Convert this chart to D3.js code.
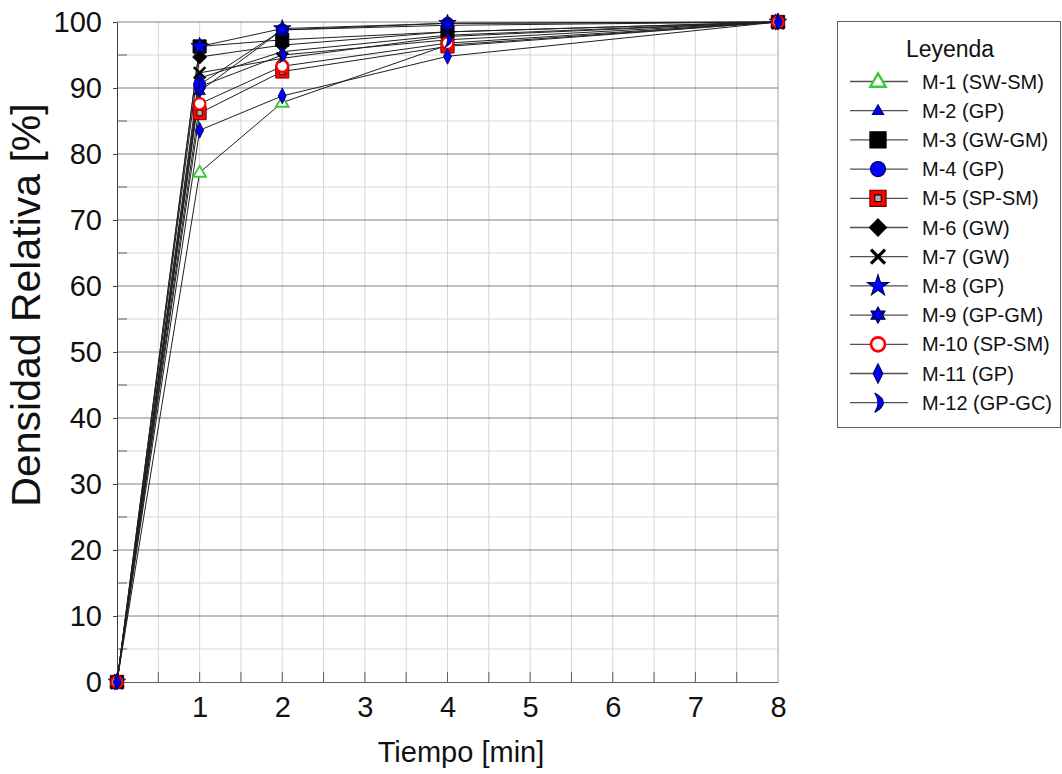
<!DOCTYPE html>
<html>
<head>
<meta charset="utf-8">
<script src="https://cdn.jsdelivr.net/npm/d3@7"></script>
<style>
  html, body { margin: 0; padding: 0; background: #fff; }
  svg { display: block; font-family: "Liberation Sans", Arial, sans-serif; }
</style>
</head>
<body>
<svg id="chart" width="1062" height="774"></svg>
<script>
// Compaction time steps (min) and relative density (%) for each sample
const tiempos = [0, 1, 2, 4, 8];
const muestras = ["M-1 (SW-SM)", "M-2 (GP)", "M-3 (GW-GM)", "M-4 (GP)", "M-5 (SP-SM)", "M-6 (GW)",
                  "M-7 (GW)", "M-8 (GP)", "M-9 (GP-GM)", "M-10 (SP-SM)", "M-11 (GP)", "M-12 (GP-GC)"];
const m1  = [0, 77.2, 87.8, 96.5, 100];
const m2  = [0, 91.5, 95.5, 98.0, 100];
const m3  = [0, 96.3, 97.3, 98.5, 100];
const m4  = [0, 90.5, 98.8, 99.8, 100];
const m5  = [0, 86.2, 92.5, 96.3, 100];
const m6  = [0, 94.7, 96.5, 98.5, 100];
const m7  = [0, 92.3, 94.5, 97.8, 100];
const m8  = [0, 96.3, 99.0, 99.8, 100];
const m9  = [0, 89.5, 98.8, 99.5, 100];
const m10 = [0, 87.6, 93.3, 96.8, 100];
const m11 = [0, 83.6, 88.8, 94.8, 100];
const m12 = [0, 90.2, 95.0, 97.3, 100];
const valores = [m1, m2, m3, m4, m5, m6, m7, m8, m9, m10, m11, m12];
const xTicks = [1, 2, 3, 4, 5, 6, 7, 8];
const yTicks = [0, 10, 20, 30, 40, 50, 60, 70, 80, 90, 100];

const svg = d3.select("#chart");
const x = d3.scaleLinear().domain([0, 8]).range([117, 778]);
const y = d3.scaleLinear().domain([0, 100]).range([682, 22]);

// ---- custom marker shapes ----
const shapeX = { draw(c, s) { const r = 6.5;
  c.moveTo(-r, -r); c.lineTo(r, r); c.moveTo(r, -r); c.lineTo(-r, r); } };
const shapeDavid = { draw(c, s) { const r = 7.5;
  for (const off of [-Math.PI / 2, Math.PI / 2]) {
    for (let i = 0; i < 3; i++) {
      const a = off + i * 2 * Math.PI / 3;
      const px = r * Math.cos(a), py = r * Math.sin(a);
      if (i === 0) c.moveTo(px, py); else c.lineTo(px, py);
    }
    c.closePath();
  } } };
const shapeTallDiamond = { draw(c, s) {
  c.moveTo(0, -9); c.lineTo(4.5, 0); c.lineTo(0, 9); c.lineTo(-4.5, 0); c.closePath(); } };
const shapeDiamond = { draw(c, s) { const r = 8;
  c.moveTo(0, -r); c.lineTo(r, 0); c.lineTo(0, r); c.lineTo(-r, 0); c.closePath(); } };
const shapeCrescent = { draw(c, s) {
  c.moveTo(-3, -9); c.quadraticCurveTo(13, 0, -3, 9); c.quadraticCurveTo(3, 0, -3, -9); c.closePath(); } };
const shapeTri = r => ({ draw(c, s) {
  c.moveTo(0, -r); c.lineTo(r * 0.95, r * 0.65); c.lineTo(-r * 0.95, r * 0.65); c.closePath(); } });
const shapeSquare = h => ({ draw(c, s) { c.rect(-h, -h, 2 * h, 2 * h); } });

const sym = t => d3.symbol().type(t)();
const estilos = [
  { d: sym(shapeTri(7.5)), fill: "#fff", stroke: "#3cc83c", sw: 2.2 },
  { d: sym(shapeTri(5.5)), fill: "#0000ff", stroke: "#000060", sw: 1 },
  { d: sym(shapeSquare(7.5)), fill: "#000", stroke: "#000", sw: 1 },
  { d: null, circle: 7, fill: "#0000ff", stroke: "#000050", sw: 1 },
  { d: sym(shapeSquare(7.5)), fill: "#ff0000", stroke: "#600000", sw: 1, inner: true },
  { d: sym(shapeDiamond), fill: "#000", stroke: "#000", sw: 1 },
  { d: sym(shapeX), fill: "none", stroke: "#000", sw: 3 },
  { d: d3.symbol().type(d3.symbolStar).size(120)(), fill: "#0000ff", stroke: "#000050", sw: 1 },
  { d: sym(shapeDavid), fill: "#0000ff", stroke: "#000050", sw: 1 },
  { d: null, circle: 6.5, fill: "#fff", stroke: "#ff0000", sw: 2.5 },
  { d: sym(shapeTallDiamond), fill: "#0000ff", stroke: "#000050", sw: 1 },
  { d: sym(shapeCrescent), fill: "#0000ff", stroke: "#000050", sw: 1 }
];

function marcador(g, est, k) {
  const m = g.append("g").attr("transform", `scale(${k})`);
  if (est.circle) {
    m.append("circle").attr("r", est.circle)
      .attr("fill", est.fill).attr("stroke", est.stroke).attr("stroke-width", est.sw);
  } else {
    m.append("path").attr("d", est.d)
      .attr("fill", est.fill).attr("stroke", est.stroke).attr("stroke-width", est.sw)
      .attr("stroke-linejoin", "miter");
  }
  if (est.inner) {
    m.append("rect").attr("x", -3).attr("y", -3).attr("width", 6).attr("height", 6)
      .attr("fill", "#b0b0b0").attr("stroke", "#000").attr("stroke-width", 1);
  }
}

// ---- grid ----
const grid = svg.append("g");
grid.selectAll(".vg").data(d3.range(1, 17).map(d => d / 2)).join("line")
  .attr("x1", d => x(d)).attr("x2", d => x(d)).attr("y1", y(0)).attr("y2", y(100))
  .attr("stroke", d => d === 8 ? "#a0a0a0" : "#d6d6d6").attr("stroke-width", 1);
grid.selectAll(".hm").data(d3.range(5, 100, 10)).join("line")
  .attr("x1", x(0)).attr("x2", x(8)).attr("y1", d => y(d)).attr("y2", d => y(d))
  .attr("stroke", "#d6d6d6").attr("stroke-width", 1);
grid.selectAll(".hM").data(d3.range(10, 101, 10)).join("line")
  .attr("x1", x(0)).attr("x2", x(8)).attr("y1", d => y(d)).attr("y2", d => y(d))
  .attr("stroke", "#808080").attr("stroke-width", 1);

// ---- axes ----
const yAxis = svg.append("g").attr("transform", `translate(${x(0)},0)`)
  .call(d3.axisLeft(y).tickValues(yTicks).tickSize(4).tickSizeOuter(0).tickPadding(11));
yAxis.select(".domain").attr("stroke", "#404040");
yAxis.selectAll(".tick line").attr("stroke", "#404040");
yAxis.selectAll("text").attr("font-size", 29).attr("fill", "#111")
  .attr("font-family", "Liberation Sans, Arial, sans-serif");
svg.append("g").selectAll("line").data(d3.range(5, 100, 10)).join("line")
  .attr("x1", x(0)).attr("x2", x(0) + 10).attr("y1", d => y(d)).attr("y2", d => y(d))
  .attr("stroke", "#606060");

const xAxis = svg.append("g").attr("transform", `translate(0,${y(0)})`)
  .call(d3.axisBottom(x).tickValues(xTicks).tickSize(0).tickSizeOuter(0).tickPadding(14));
xAxis.select(".domain").attr("stroke", "#606060");
xAxis.selectAll("text").attr("font-size", 29).attr("fill", "#111")
  .attr("font-family", "Liberation Sans, Arial, sans-serif");
svg.append("g").selectAll("line").data(d3.range(1, 16).map(d => d / 2)).join("line")
  .attr("x1", d => x(d)).attr("x2", d => x(d)).attr("y1", y(0)).attr("y2", y(0) - 10)
  .attr("stroke", "#606060");

svg.append("text").attr("x", 461).attr("y", 762).attr("text-anchor", "middle")
  .attr("font-size", 29).attr("fill", "#111").text("Tiempo [min]");
svg.append("text").attr("transform", `translate(40,305) rotate(-90)`)
  .attr("text-anchor", "middle").attr("font-size", 41).attr("fill", "#111")
  .text("Densidad Relativa [%]");

// ---- series ----
const linea = d3.line().x((d, i) => x(tiempos[i])).y(d => y(d));
svg.append("g").selectAll("path").data(valores).join("path")
  .attr("d", linea).attr("fill", "none").attr("stroke", "#202020").attr("stroke-width", 1);

valores.forEach((serie, k) => {
  const g = svg.append("g");
  serie.forEach((v, i) => {
    marcador(g.append("g").attr("transform", `translate(${x(tiempos[i])},${y(v)})`), estilos[k], 0.88);
  });
});

// ---- legend ----
const leg = svg.append("g");
leg.append("rect").attr("x", 837.5).attr("y", 21.5).attr("width", 223).attr("height", 406)
  .attr("fill", "#fff").attr("stroke", "#606060").attr("stroke-width", 1);
leg.append("text").attr("x", 950).attr("y", 57).attr("text-anchor", "middle")
  .attr("font-size", 23).attr("fill", "#111").text("Leyenda");
muestras.forEach((nombre, k) => {
  const yy = 81.5 + k * 29.2;
  leg.append("line").attr("x1", 850).attr("x2", 908).attr("y1", yy).attr("y2", yy)
    .attr("stroke", "#505050").attr("stroke-width", 1.3);
  marcador(leg.append("g").attr("transform", `translate(878,${yy})`), estilos[k], 1.08);
  leg.append("text").attr("x", 922).attr("y", yy + 7).attr("font-size", 20)
    .attr("fill", "#111").text(nombre);
});
</script>
</body>
</html>
